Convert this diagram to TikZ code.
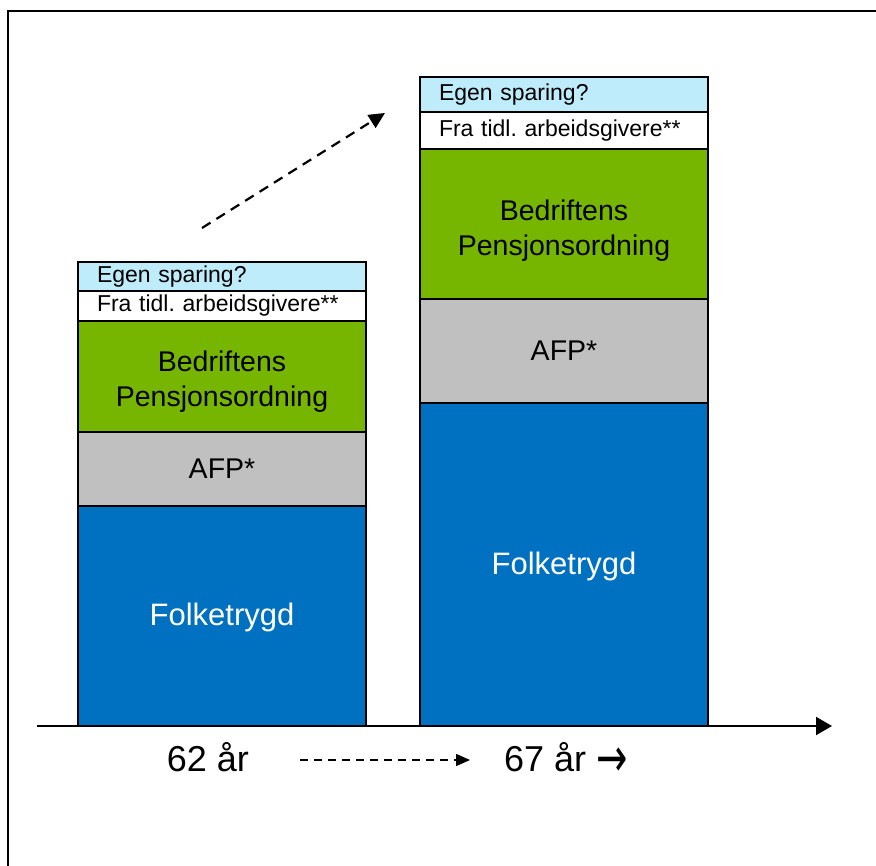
\documentclass[tikz,border=0pt]{standalone}
\usepackage{fontspec}
\setmainfont{Liberation Sans}
\newfontfamily\arrowfont{DejaVu Sans}
\usetikzlibrary{arrows.meta,positioning}

\definecolor{egenblue}{RGB}{190,236,250}
\definecolor{bedgreen}{RGB}{119,182,0}
\definecolor{afpgray}{RGB}{192,192,192}
\definecolor{folkblue}{RGB}{0,112,192}

\tikzset{
    seg/.style={draw=black, line width=1.2pt, minimum width=288pt, inner sep=0pt, align=center},
    smalltxt/.style={seg, text width=250pt, inner xsep=19pt, align=left, font=\fontsize{23}{26}\selectfont\frenchspacing},
    bigtxt/.style={seg, font=\fontsize{28.5}{34}\selectfont},
    bedtxt/.style={inner sep=0pt, align=center, font=\fontsize{28.5}{35}\selectfont},
    folktxt/.style={inner sep=0pt, text=white, font=\fontsize{31}{36}\selectfont},
    yeartxt/.style={inner sep=2pt, font=\fontsize{36}{40}\selectfont}
}

\begin{document}
\begin{tikzpicture}[x=1pt, y=-1pt]

            \useasboundingbox (0,0) rectangle (876,866);

            % Draw frame.
            \draw[line width=2pt] (8,866) -- (8,11) -- (876,11);

            % Draw bar at 62.
            \node[smalltxt, fill=egenblue, minimum height=30pt] (egenL) at (222,277) {Egen sparing?};
            \node[smalltxt, fill=white, minimum height=30pt] (fraL) at (222,306) {Fra tidl. arbeidsgivere**};
            \node[seg, fill=bedgreen, minimum height=111pt] (bedL) at (222,376.5) {};
            \node[bedtxt] (bedLtxt) at ([yshift=-5pt]bedL.center) {Bedriftens\\Pensjonsordning};
            \node[bigtxt, fill=afpgray, minimum height=74pt] (afpL) at (222,469) {AFP*};
            \node[seg, fill=folkblue, minimum height=220pt] (folkL) at (222,616) {};
            \node[folktxt] (folkLtxt) at ([yshift=-1pt]folkL.center) {Folketrygd};

            % Draw bar at 67.
            \node[smalltxt, fill=egenblue, minimum height=35pt] (egenR) at (564,94.5) {Egen sparing?};
            \node[smalltxt, fill=white, minimum height=37pt] (fraR) at (564,130.5) {Fra tidl. arbeidsgivere**};
            \node[seg, fill=bedgreen, minimum height=150pt] (bedR) at (564,224) {};
            \node[bedtxt] (bedRtxt) at ([yshift=-7pt]bedR.center) {Bedriftens\\Pensjonsordning};
            \node[bigtxt, fill=afpgray, minimum height=104pt] (afpR) at (564,351) {AFP*};
            \node[seg, fill=folkblue, minimum height=323pt] (folkR) at (564,564.5) {};
            \node[folktxt] (folkRtxt) at ([yshift=-2pt]folkR.center) {Folketrygd};

            % Draw time axis.
            \coordinate (ax0) at (37,726);
            \coordinate (ax1) at (832,726);
            \draw[line width=2pt, -{Triangle[length=16pt,width=18pt]}] (ax0) -- (ax1);

            % Draw years.
            \node[yeartxt, anchor=base] (yr62) at (208,771) {62 år};
            \node[yeartxt, anchor=base west] (yr67) at (502,771) {67 år {\arrowfont\fontsize{34}{40}\selectfont\raisebox{-5pt}{\scalebox{1.1}[1.6]{→}}}};
            \coordinate (go0) at (300,760);
            \coordinate (go1) at (470,760);
            \draw[line width=1.6pt, dash pattern=on 8pt off 6pt, -{Triangle[length=14pt,width=12pt]}] (go0) -- (go1);

            % Draw rising arrow.
            \coordinate (up0) at (202,228);
            \coordinate (up1) at (385,113);
            \draw[line width=2.2pt, dash pattern=on 10pt off 7pt, -{Triangle[length=16pt,width=15pt]}] (up0) -- (up1);

            \end{tikzpicture}
\end{document}
